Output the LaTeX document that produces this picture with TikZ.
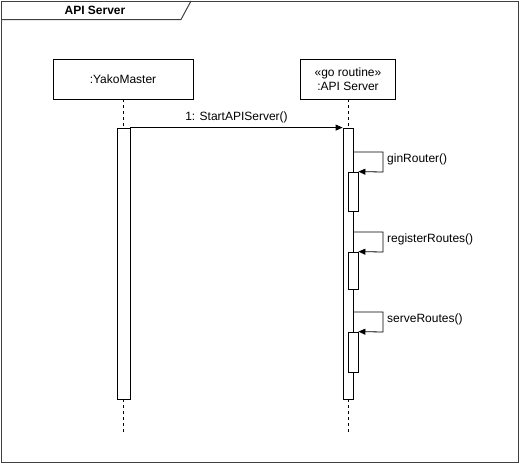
\documentclass[tikz,border=0pt]{standalone}
\usepackage{fontspec}
\setmainfont{Liberation Sans}
\usetikzlibrary{arrows.meta}
\begin{document}
\begin{tikzpicture}[x=1pt,y=-1pt,
  every node/.style={font=\fontsize{12}{14}\selectfont, inner sep=0pt},
  frameline/.style={draw=black!75, line width=1pt},
  lifebox/.style={draw, fill=white, line width=0.8pt},
  actbar/.style={draw, fill=white, line width=0.8pt},
  lifeline/.style={draw, dashed, dash pattern=on 3pt off 3pt, line width=0.8pt},
  msg/.style={draw, line width=0.8pt, -{Triangle[length=7pt,width=6pt]}},
  lbl/.style={anchor=west}
]
\useasboundingbox (0,0) rectangle (519,463);
% frame
\draw[frameline] (1,1) rectangle (518,462);
\draw[frameline] (1,19.5) -- (181,19.5) -- (191,1);
\node[font=\fontsize{12}{14}\selectfont\bfseries] (title) at (95,10) {API Server};
% lifeline heads
\node[lifebox, minimum width=140pt, minimum height=40pt] (ym) at (123,79) {:YakoMaster};
\node[lifebox, minimum width=95pt, minimum height=40pt, align=center] (api) at (348,79) {«go routine»\\:API Server};
% lifelines
\coordinate (ymend) at (123,432);
\coordinate (apiend) at (348,432);
\path[lifeline] (ym.south) -- (ymend);
\path[lifeline] (api.south) -- (apiend);
% activation bars
\node[actbar, minimum width=13pt, minimum height=271pt] (ymbar) at (123.5,263.5) {};
\node[actbar, minimum width=10pt, minimum height=271pt] (apibar) at (348,263.5) {};
\node[actbar, minimum width=10pt, minimum height=39pt] (b1) at (353,191.5) {};
\node[actbar, minimum width=10pt, minimum height=37pt] (b2) at (353,270.5) {};
\node[actbar, minimum width=10pt, minimum height=40pt] (b3) at (353,352) {};
% message 1
\draw[msg] (ymbar.north east) -- (apibar.north west) node[midway, above=4pt] (m1) {1: StartAPIServer()};
% self calls
\coordinate (s1) at (353,152);
\draw[msg] (apibar.east |- s1) -- (383,152) -- (383,172) -- (b1.north east);
\node[lbl] (l1) at (387,159) {ginRouter()};
\coordinate (s2) at (353,232);
\draw[msg] (apibar.east |- s2) -- (383,232) -- (383,252) -- (b2.north east);
\node[lbl] (l2) at (387,239) {registerRoutes()};
\coordinate (s3) at (353,312);
\draw[msg] (apibar.east |- s3) -- (383,312) -- (383,332) -- (b3.north east);
\node[lbl] (l3) at (387,319) {serveRoutes()};
\end{tikzpicture}
\end{document}
